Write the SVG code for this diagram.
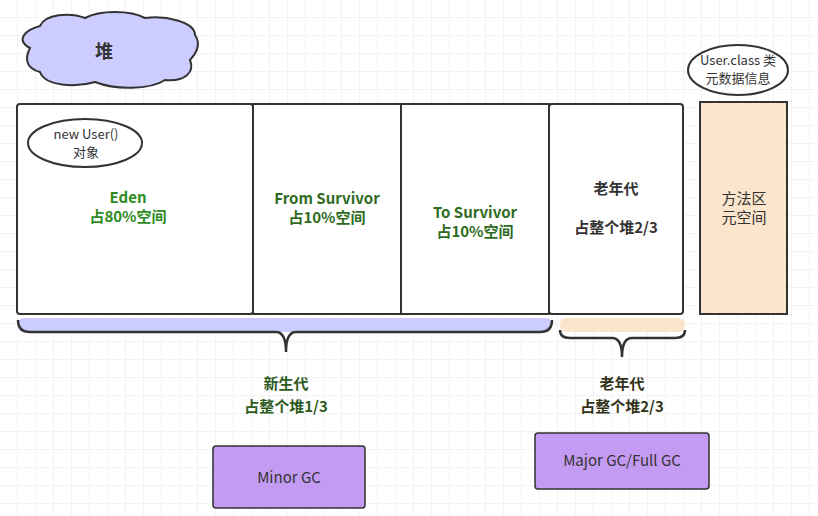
<svg xmlns="http://www.w3.org/2000/svg" width="818" height="516" viewBox="0 0 818 516">
<defs>
<pattern id="g" width="18" height="18" patternUnits="userSpaceOnUse"><path d="M18 0V18H0" fill="none" stroke="#e6e6e6" stroke-width="1"/></pattern>
<style>
text{font-family:"Noto Sans CJK SC","Liberation Sans",sans-serif;text-anchor:middle}
.box{fill:#fff;stroke:#333;stroke-width:2}
.g{fill:#2e8b1e;font-weight:bold;font-size:15px}
.d{fill:#333;font-weight:bold;font-size:15px}
.n{fill:#333;font-size:15px}
.s{fill:#333;font-size:13px}
.gc{fill:#c39bf2;stroke:#333;stroke-width:1.5}
.br{fill:none;stroke:#333;stroke-width:2.5}
</style>
</defs>
<rect width="818" height="516" fill="#fff"/>
<rect width="818" height="516" fill="url(#g)"/>
<g id="cloud">
<path d="M30 48 C15 40 25 30 40 26 C45 14 70 12 85 18 C100 10 130 10 145 18 C165 15 195 22 195 35 C202 45 195 55 190 60 C195 72 185 82 165 80 C150 90 115 90 95 82 C75 88 45 86 40 72 C25 68 25 58 30 48 Z" fill="#ccccff" stroke="#333" stroke-width="2"/>
<text x="104" y="58" class="d" style="font-size:18px">堆</text>
</g>
<g id="eden"><rect class="box" x="17" y="104" width="236" height="210" rx="3"/>
<text x="128" y="203" class="g">Eden</text><text x="128" y="222" class="g">占80%空间</text></g>
<g id="obj"><ellipse cx="85" cy="143" rx="57" ry="24" fill="#fff" stroke="#333" stroke-width="2"/>
<text x="86" y="139" class="s">new User()</text><text x="86" y="157" class="s">对象</text></g>
<g id="from"><rect class="box" x="253" y="104" width="148" height="210"/>
<text x="327" y="204" class="g" style="fill:#2e6b1e">From Survivor</text><text x="327" y="223" class="g" style="fill:#2e6b1e">占10%空间</text></g>
<g id="to"><rect class="box" x="401" y="104" width="148" height="210"/>
<text x="475" y="218" class="g" style="fill:#2e6b1e">To Survivor</text><text x="475" y="237" class="g" style="fill:#2e6b1e">占10%空间</text></g>
<g id="old"><rect class="box" x="549" y="104" width="134" height="210" rx="3"/>
<text x="616" y="194" class="d">老年代</text><text x="616" y="233" class="d">占整个堆2/3</text></g>
<g id="meta"><rect x="700" y="102" width="87" height="212" fill="#fce5cd" stroke="#333" stroke-width="2"/>
<text x="744" y="204" class="n">方法区</text><text x="744" y="223" class="n">元空间</text></g>
<g id="cls"><ellipse cx="738" cy="70" rx="50" ry="25" fill="#fff" stroke="#333" stroke-width="2"/>
<text x="738" y="65" class="s">User.class 类</text><text x="738" y="83" class="s">元数据信息</text></g>
<g id="connectors">
<rect x="18" y="318" width="534" height="14" fill="#ccccff" rx="6"/>
<path class="br" d="M18 320 Q18 332 30 332 L276 332 Q286 332 286 352 Q286 332 296 332 L540 332 Q552 332 552 320"/>
<rect x="560" y="318" width="125" height="14" fill="#fce5cd" rx="6"/>
<path class="br" d="M560 330 Q560 338 570 338 L612 338 Q622 338 622 357 Q622 338 632 338 L675 338 Q685 338 685 330"/>
</g>
<g id="young"><text x="286" y="389" class="d" style="fill:#2e5b1e">新生代</text><text x="286" y="412" class="d" style="fill:#2e5b1e">占整个堆1/3</text></g>
<g id="oldlbl"><text x="622" y="389" class="d" style="fill:#33331a">老年代</text><text x="622" y="412" class="d" style="fill:#33331a">占整个堆2/3</text></g>
<g id="minor"><rect class="gc" x="213" y="446" width="152" height="62" rx="3"/><text x="289" y="483" class="n">Minor GC</text></g>
<g id="major"><rect class="gc" x="535" y="433" width="174" height="56" rx="3"/><text x="622" y="466" class="n">Major GC/Full GC</text></g>
</svg>
